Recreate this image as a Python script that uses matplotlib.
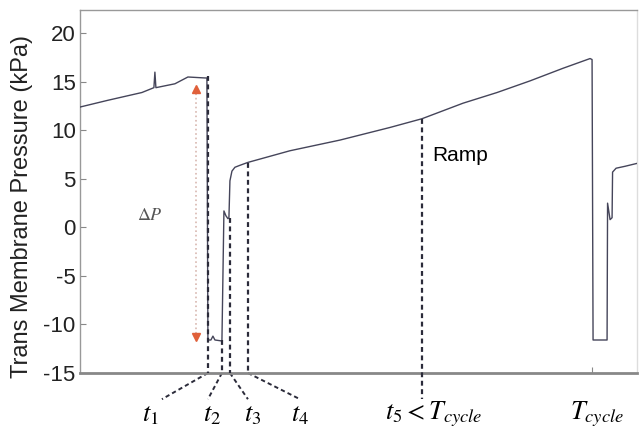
import numpy as np
import matplotlib
matplotlib.use("Agg")
import matplotlib.pyplot as plt

plt.rcParams["font.family"] = ["Liberation Sans", "DejaVu Sans"]
plt.rcParams["mathtext.fontset"] = "stix"
plt.rcParams["axes.unicode_minus"] = False

# trace (time in arbitrary units, pressure in kPa)
time = [0, 28, 62, 74, 75, 76, 95, 108, 125, 127, 128, 131, 133, 135, 142,
        144, 146, 148, 149, 150, 152, 155, 160, 168, 210, 260, 310, 342,
        383, 417, 450, 483, 510, 512, 513, 527, 527.5, 530, 532, 532.5,
        536, 545, 557]
pressure = [12.4, 13.1, 13.9, 14.4, 16.0, 14.4, 14.8, 15.5, 15.4, 15.4, -11.6,
            -11.6, -11.2, -11.6, -11.7, 1.7, 1.2, 0.9, 1.0, 4.8, 5.8, 6.2,
            6.4, 6.7, 7.9, 9.0, 10.3, 11.2, 12.8, 13.9, 15.1, 16.4, 17.4,
            17.3, -11.6, -11.6, 2.5, 0.8, 1.0, 5.7, 6.1, 6.3, 6.6]

# event markers
event_names = ["$t_1$", "$t_2$", "$t_3$", "$t_4$"]
event_times = [128, 142, 150, 168]
event_levels = [15.6, -11.6, 1.0, 6.6]
label_x = [70, 132, 173, 220]
label_line_x = [82, 128, 168, 220]

t5_time = 342
t5_level = 11.2
t_cycle = 512

dp_time = 116
dp_top = 14.3
dp_bottom = -11.3

yticks = [-15, -10, -5, 0, 5, 10, 15, 20]

fig = plt.figure(figsize=(6.39, 4.36), dpi=100)
ax = fig.add_axes([0.125, 0.1445, 0.872, 0.8325])
ax.set_xlim(0, 557)
ax.set_ylim(-15, 22.4)

ax.plot(time, pressure, color="#45455a", lw=1.0, zorder=3)

dash = (0, (2.2, 1.6))
y_low = -15
y_line_end = -17.7
for t, lev, lx, llx, name in zip(event_times, event_levels, label_x, label_line_x, event_names):
    ax.plot([t, t], [lev, y_low], color="#2b2b3a", lw=1.6, ls=dash, zorder=4)
    ax.plot([t, llx], [y_low, y_line_end], color="#2b2b3a", lw=1.4, ls=dash,
            clip_on=False)
    ax.text(lx, -19.3, name, fontsize=19, ha="center", va="center")

ax.plot([t5_time, t5_time], [t5_level, y_line_end], color="#2b2b3a", lw=1.6,
        ls=dash, clip_on=False, zorder=4)
ax.text(t5_time + 12, -19.3, r"$t_5 < T_{cycle}$", fontsize=19, ha="center",
        va="center")
ax.text(t_cycle + 5, -19.3, r"$T_{cycle}$", fontsize=19, ha="center", va="center")

# delta P arrow
ax.plot([dp_time, dp_time], [dp_top, dp_bottom], color="#d8b8b0", lw=1.2, ls=":")
ax.plot([dp_time], [dp_top], marker="^", color="#e0603a", ms=6, ls="none")
ax.plot([dp_time], [dp_bottom], marker="v", color="#e0603a", ms=6, ls="none")
ax.text(70, 1.2, r"$\Delta P$", fontsize=13, color="#555555", ha="center",
        va="center")

ax.text(352, 7.4, "Ramp", fontsize=15, ha="left", va="center")

ax.set_yticks(yticks)
ax.set_xticks([t_cycle])
ax.set_xticklabels([""])
ax.tick_params(axis="y", direction="in", length=4, color="#888888",
               labelsize=16, labelcolor="#222222", pad=3)
ax.tick_params(axis="x", direction="in", length=4, color="#888888")
for side in ["left", "top", "right"]:
    ax.spines[side].set_color("#999999")
    ax.spines[side].set_linewidth(1.0)
ax.spines["right"].set_color("#dddddd")
ax.spines["bottom"].set_color("#888888")
ax.spines["bottom"].set_linewidth(2.0)

ax.set_ylabel("Trans Membrane Pressure (kPa)", fontsize=17, color="#222222")
ax.yaxis.set_label_coords(-0.085, 0.46)

fig.savefig("out.png", dpi=100)
